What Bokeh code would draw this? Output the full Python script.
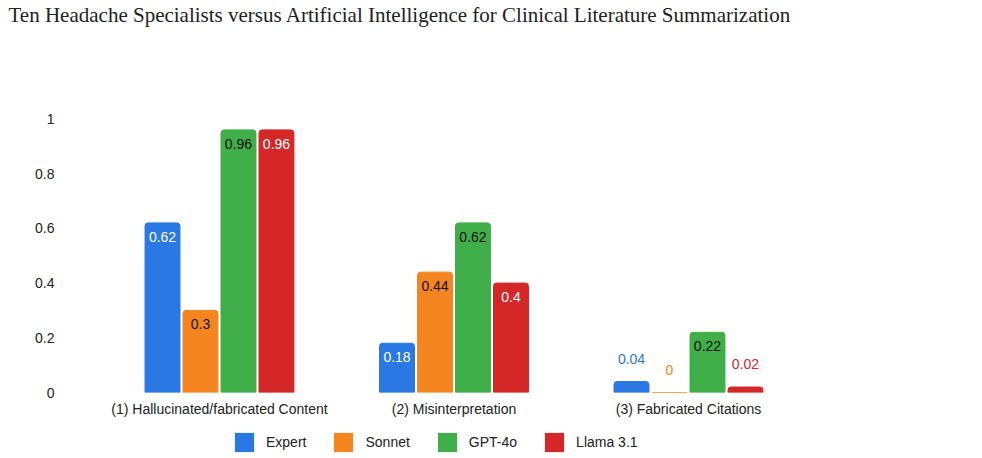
from bokeh.plotting import figure
from bokeh.layouts import column
from bokeh.models import ColumnDataSource, Range1d, FixedTicker, Legend, LegendItem
from bokeh.transform import dodge
from bokeh.core.properties import value
from bokeh.embed import file_html
from bokeh.resources import INLINE

title_text = "Ten Headache Specialists versus Artificial Intelligence for Clinical Literature Summarization"
categories = ["(1) Hallucinated/fabricated Content", "(2) Misinterpretation", "(3) Fabricated Citations"]
series_names = ["Expert", "Sonnet", "GPT-4o", "Llama 3.1"]
expert = [0.62, 0.18, 0.04]
sonnet = [0.30, 0.44, 0.0]
gpt4o = [0.96, 0.62, 0.22]
llama = [0.96, 0.40, 0.02]
y_ticks = [0, 0.2, 0.4, 0.6, 0.8, 1]
y_tick_labels = ["0", "0.2", "0.4", "0.6", "0.8", "1"]

series_values = [expert, sonnet, gpt4o, llama]
colors = ["#2a78e4", "#f58520", "#40ae49", "#d62728"]
inside_text_colors = ["#ffffff", "#111111", "#111111", "#ffffff"]

FONT = "Liberation Sans"
x_pos = list(range(len(categories)))

p = figure(width=982, height=420, output_backend="svg", toolbar_location=None,
           x_range=Range1d(-0.6567, 2.5075), y_range=Range1d(0, 1.338),
           min_border_left=65, min_border_right=175, min_border_top=24, min_border_bottom=28)
p.outline_line_color = None
p.background_fill_color = "white"
p.border_fill_color = "white"
p.xgrid.visible = False
p.ygrid.visible = False

p.title.text = title_text
p.title.text_font = "Liberation Serif"
p.title.text_font_size = "21px"
p.title.text_font_style = "normal"
p.title.text_color = "#222222"
p.title.offset = -57
p.title.standoff = 0

bar_w = 0.149
step = 0.162
offsets = [(i - 1.5) * step for i in range(len(series_names))]

for name, vals, col, tcol, off in zip(series_names, series_values, colors, inside_text_colors, offsets):
    labels = [f"{v:g}" for v in vals]
    inside = [v > 0.1 for v in vals]
    src = ColumnDataSource(dict(
        x=x_pos, top=vals, label=labels,
        yoff=[14 if ins else -23 for ins in inside],
        tcolor=[tcol if ins else col for ins in inside],
    ))
    p.vbar(x=dodge("x", off), top="top", bottom=0, width=bar_w, source=src,
           fill_color=col, line_color=col, line_width=1, border_radius=(3, 3, 0, 0))
    p.text(x=dodge("x", off), y="top", text="label", source=src, text_color="tcolor",
           y_offset="yoff", text_align="center", text_baseline="middle",
           text_font=value(FONT), text_font_size="14px")

# axes
p.yaxis.ticker = FixedTicker(ticks=y_ticks)
p.yaxis.major_label_overrides = {t: l for t, l in zip(y_ticks, y_tick_labels)}
p.yaxis.axis_line_color = None
p.yaxis.major_tick_line_color = None
p.yaxis.minor_tick_line_color = None
p.yaxis.major_tick_out = 0
p.yaxis.major_label_standoff = 11
p.yaxis.major_label_text_font = FONT
p.yaxis.major_label_text_font_size = "14px"
p.yaxis.major_label_text_color = "#222222"

p.xaxis.ticker = FixedTicker(ticks=x_pos)
p.xaxis.major_label_overrides = {i: c for i, c in zip(x_pos, categories)}
p.xaxis.axis_line_color = None
p.xaxis.major_tick_line_color = None
p.xaxis.minor_tick_line_color = None
p.xaxis.major_tick_out = 0
p.xaxis.major_label_standoff = 8
p.xaxis.major_label_text_font = FONT
p.xaxis.major_label_text_font_size = "14px"
p.xaxis.major_label_text_color = "#222222"

# legend strip below the chart (frame is aligned with the chart frame by the column)
lg = figure(width=982, height=38, output_backend="svg", toolbar_location=None,
            x_range=Range1d(0, 1), y_range=Range1d(0, 1),
            x_axis_type=None, y_axis_type=None,
            min_border_left=0, min_border_right=0, min_border_top=0, min_border_bottom=0)
lg.outline_line_color = None
lg.xgrid.visible = False
lg.ygrid.visible = False
items = []
for name, col in zip(series_names, colors):
    r = lg.vbar(x=[0.5], top=[0], bottom=[0], width=0, fill_color=col, line_color=None)
    items.append(LegendItem(label=name, renderers=[r]))
legend = Legend(items=items, orientation="horizontal", location=(167, 4),
                glyph_width=24, glyph_height=24, label_standoff=10, spacing=25,
                label_text_font=FONT, label_text_font_size="14px", label_text_color="#222222",
                border_line_color=None, background_fill_alpha=0, padding=0, margin=0)
lg.add_layout(legend, "center")

layout = column(p, lg, spacing=0)
open("out.html", "w").write(file_html(layout, INLINE))
